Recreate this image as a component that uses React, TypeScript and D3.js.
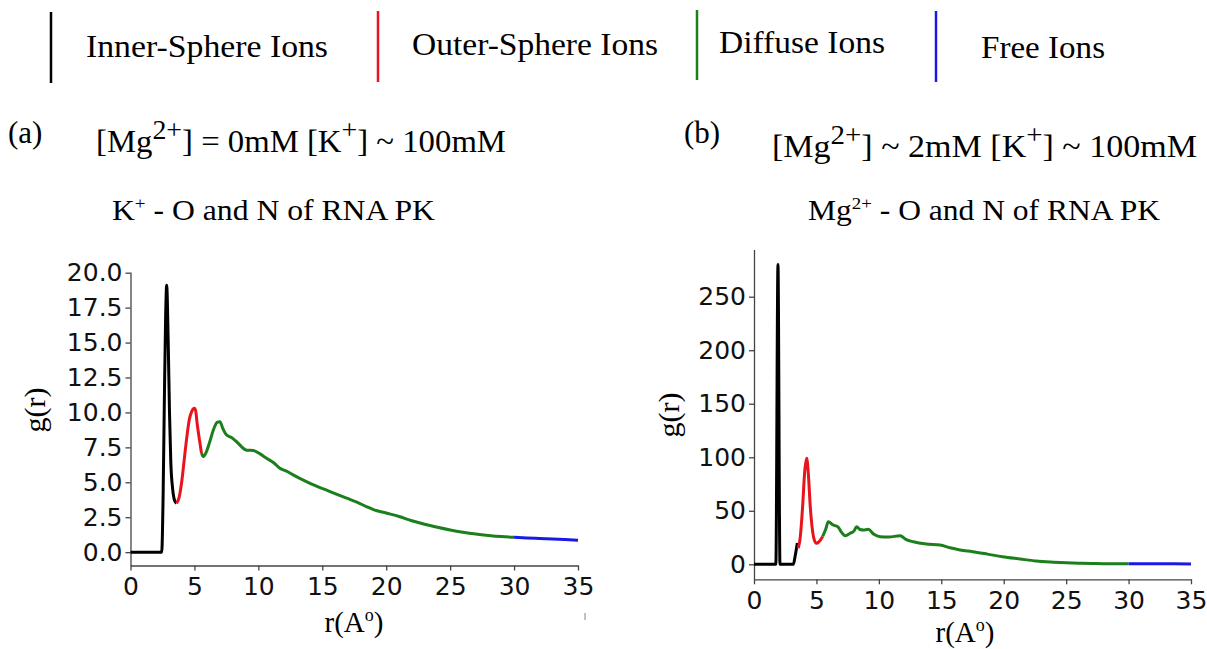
import React, { useEffect, useRef } from 'react';
import * as d3 from 'd3';

type Pt = [number, number];

// (a) K+ around O and N of RNA PK, [Mg2+] = 0
const innerA: Pt[] = [[0, 0], [2.44, 0], [2.55, 4], [2.65, 11], [2.75, 17], [2.83, 19.1], [2.95, 15], [3.05, 10], [3.15, 6.5], [3.3, 4.5], [3.45, 3.7], [3.6, 3.5]];
const outerA: Pt[] = [[3.6, 3.5], [3.8, 3.9], [4.0, 5.0], [4.2, 6.6], [4.4, 8.2], [4.6, 9.5], [4.8, 10.1], [5.0, 10.3], [5.1, 10.1], [5.2, 9.3], [5.4, 8.0], [5.55, 7.1]];
const diffuseA: Pt[] = [[5.55, 7.1], [5.7, 6.84], [5.9, 7.1], [6.2, 7.9], [6.5, 8.8], [6.8, 9.3], [7.0, 9.34], [7.2, 8.9], [7.5, 8.4], [7.9, 8.2], [8.3, 7.9], [9.08, 7.3], [9.6, 7.27], [10.1, 7.05], [10.64, 6.72], [11.2, 6.4], [11.68, 6.0], [12.2, 5.8], [12.72, 5.53], [13.2, 5.3], [13.76, 5.05], [14.5, 4.75], [15.3, 4.45], [16.1, 4.15], [16.9, 3.86], [17.7, 3.58], [18.45, 3.26], [19, 3.05], [20, 2.8], [21, 2.55], [22, 2.25], [23, 2.0], [24, 1.78], [25, 1.59], [26, 1.43], [27, 1.3], [28, 1.2], [29, 1.12], [30, 1.07]];
const freeA: Pt[] = [[30, 1.07], [31, 1.02], [32, 0.98], [33, 0.94], [34, 0.9], [35, 0.86]];

// (b) Mg2+ around O and N of RNA PK, [Mg2+] ~ 2mM
const innerB: Pt[] = [[0, 0], [1.75, 0], [1.92, 280], [2.08, 0], [3.15, 0], [3.3, 8], [3.47, 20]];
const outerB: Pt[] = [[3.55, 15], [3.7, 25], [3.9, 55], [4.05, 85], [4.22, 99], [4.35, 85], [4.5, 55], [4.65, 35], [4.8, 24], [5.0, 19.6], [5.2, 21], [5.5, 26]];
const diffuseB: Pt[] = [[5.5, 26], [5.75, 33], [5.95, 39.8], [6.3, 37], [6.76, 34.6], [7.0, 30], [7.3, 26.7], [7.7, 29], [8.0, 31], [8.22, 35], [8.5, 32.5], [8.75, 32], [9.15, 32.7], [9.6, 28], [10.1, 25.8], [10.8, 25.5], [11.7, 26.7], [12.2, 23], [12.76, 21.1], [13.8, 19], [14.9, 18], [15.7, 15.5], [16.5, 13.4], [17.5, 11.8], [18.7, 9.5], [19.9, 7.1], [21.3, 5.0], [22.6, 3.1], [24, 2.0], [25, 1.4], [26, 1.0], [27, 0.8], [28, 0.6], [30, 0.5]];
const freeB: Pt[] = [[30, 0.5], [32, 0.45], [35, 0.4]];

const xTicks = [0, 5, 10, 15, 20, 25, 30, 35];
const yTicksA = [0, 2.5, 5, 7.5, 10, 12.5, 15, 17.5, 20];
const yTicksB = [0, 50, 100, 150, 200, 250];

const legendNames = ['Inner-Sphere Ions', 'Outer-Sphere Ions', 'Diffuse Ions', 'Free Ions'];
const colors = ['#000000', '#e8141c', '#1b7f1b', '#1a1ae6'];

const serif = '"Times New Roman", "Liberation Serif", Times, serif';
const sans = '"DejaVu Sans", sans-serif';

const App = () => {
  const svgRef = useRef<SVGSVGElement>(null);

  useEffect(() => {
    const svg = d3.select(svgRef.current);
    svg.selectAll('*').remove();

    // legend at the top
    const legendPos = [
      { lx: 51, ly0: 12, ly1: 83, tx: 86, ty: 57, w: 242 },
      { lx: 378, ly0: 11, ly1: 82, tx: 412, ty: 55, w: 246 },
      { lx: 697, ly0: 10, ly1: 80, tx: 719, ty: 53, w: 166 },
      { lx: 936, ly0: 11, ly1: 82, tx: 981, ty: 58, w: 124 },
    ];
    legendNames.forEach((name, i) => {
      const p = legendPos[i];
      svg.append('line')
        .attr('x1', p.lx).attr('x2', p.lx)
        .attr('y1', p.ly0).attr('y2', p.ly1)
        .attr('stroke', colors[i])
        .attr('stroke-width', 2.5);
      svg.append('text')
        .attr('x', p.tx).attr('y', p.ty)
        .attr('font-family', serif)
        .attr('font-size', 32)
        .attr('textLength', p.w)
        .attr('lengthAdjust', 'spacingAndGlyphs')
        .text(name);
    });

    // text with superscripts: parts are [text, isSup]
    const supText = (x: number, y: number, size: number, width: number, supScale: number, shift: number, parts: [string, boolean][]) => {
      const t = svg.append('text')
        .attr('x', x).attr('y', y)
        .attr('font-family', serif)
        .attr('font-size', size)
        .attr('textLength', width)
        .attr('lengthAdjust', 'spacingAndGlyphs');
      let raised = false;
      parts.forEach(([s, sup]) => {
        const ts = t.append('tspan').text(s);
        if (sup) {
          ts.attr('font-size', size * supScale);
          if (!raised) { ts.attr('dy', -shift); raised = true; }
        } else if (raised) { ts.attr('dy', shift); raised = false; }
      });
    };

    svg.append('text').attr('x', 8).attr('y', 143)
      .attr('font-family', serif).attr('font-size', 31).text('(a)');
    supText(96, 152, 31, 410, 0.85, 13, [['[Mg', false], ['2+', true], ['] = 0mM [K', false], ['+', true], ['] ~ 100mM', false]]);
    supText(112, 220, 29, 323, 0.6, 11, [['K', false], ['+', true], [' - O and N of RNA PK', false]]);

    svg.append('text').attr('x', 684).attr('y', 143)
      .attr('font-family', serif).attr('font-size', 31).text('(b)');
    supText(772, 157, 31, 425, 0.85, 13, [['[Mg', false], ['2+', true], ['] ~ 2mM [K', false], ['+', true], ['] ~ 100mM', false]]);
    supText(808, 220, 29, 352, 0.6, 11, [['Mg', false], ['2+', true], [' - O and N of RNA PK', false]]);

    const drawPanel = (cfg: {
      x0: number; x1: number; yBot: number; yTop: number;
      yDomain: [number, number]; yTicks: number[]; fmt: (v: number) => string;
      segs: Pt[][]; ylabX: number; ylabY: number; xlabX: number; xlabY: number; lw: number;
    }) => {
      const x = d3.scaleLinear().domain([0, 35]).range([cfg.x0, cfg.x1]);
      const y = d3.scaleLinear().domain(cfg.yDomain).range([cfg.yBot, cfg.yTop]);

      const gx = svg.append('g')
        .attr('transform', `translate(0,${cfg.yBot})`)
        .call(d3.axisBottom(x).tickValues(xTicks).tickSize(5).tickSizeOuter(0).tickPadding(7));
      gx.selectAll('text').attr('font-family', sans).attr('font-size', 25).attr('fill', '#111');

      const gy = svg.append('g')
        .attr('transform', `translate(${cfg.x0},0)`)
        .call(d3.axisLeft(y).tickValues(cfg.yTicks).tickFormat(cfg.fmt as any).tickSize(5).tickSizeOuter(0).tickPadding(3));
      gy.selectAll('text').attr('font-family', sans).attr('font-size', 25).attr('fill', '#111');

      svg.selectAll('.domain').attr('stroke', '#444').attr('stroke-width', 1.3);
      svg.selectAll('.tick line').attr('stroke', '#444').attr('stroke-width', 1.3);

      const line = d3.line<Pt>()
        .curve(d3.curveMonotoneX)
        .x(d => x(d[0]))
        .y(d => y(d[1]));

      cfg.segs.forEach((seg, i) => {
        svg.append('path')
          .datum(seg)
          .attr('fill', 'none')
          .attr('stroke', colors[i])
          .attr('stroke-width', cfg.lw)
          .attr('stroke-linejoin', 'round')
          .attr('d', line);
      });

      svg.append('text')
        .attr('transform', `translate(${cfg.ylabX},${cfg.ylabY}) rotate(-90)`)
        .attr('text-anchor', 'middle')
        .attr('font-family', serif)
        .attr('font-size', 30)
        .text('g(r)');

      const xl = svg.append('text')
        .attr('x', cfg.xlabX).attr('y', cfg.xlabY)
        .attr('text-anchor', 'middle')
        .attr('font-family', serif)
        .attr('font-size', 29);
      xl.append('tspan').text('r(A');
      xl.append('tspan').attr('dy', -11).attr('font-size', 18).text('o');
      xl.append('tspan').attr('dy', 11).text(')');
    };

    drawPanel({
      x0: 130.5, x1: 578, yBot: 565.5, yTop: 272,
      yDomain: [-0.955, 20.05], yTicks: yTicksA, fmt: d3.format('.1f'),
      segs: [innerA, outerA, diffuseA, freeA],
      ylabX: 45, ylabY: 410, xlabX: 354, xlabY: 632, lw: 3,
    });

    drawPanel({
      x0: 754, x1: 1191, yBot: 579.3, yTop: 249.6,
      yDomain: [-14, 294], yTicks: yTicksB, fmt: d3.format('d'),
      segs: [innerB, outerB, diffuseB, freeB],
      ylabX: 679, ylabY: 415, xlabX: 965, xlabY: 642, lw: 3,
    });

    // small stray mark below panel (a)
    svg.append('line')
      .attr('x1', 585).attr('x2', 585)
      .attr('y1', 613).attr('y2', 620)
      .attr('stroke', '#999').attr('stroke-width', 1.2);
  }, []);

  return (
    <svg ref={svgRef} width={1207} height={649}
      style={{ position: 'absolute', left: 0, top: 0, background: '#fff' }} />
  );
};

export default App;
